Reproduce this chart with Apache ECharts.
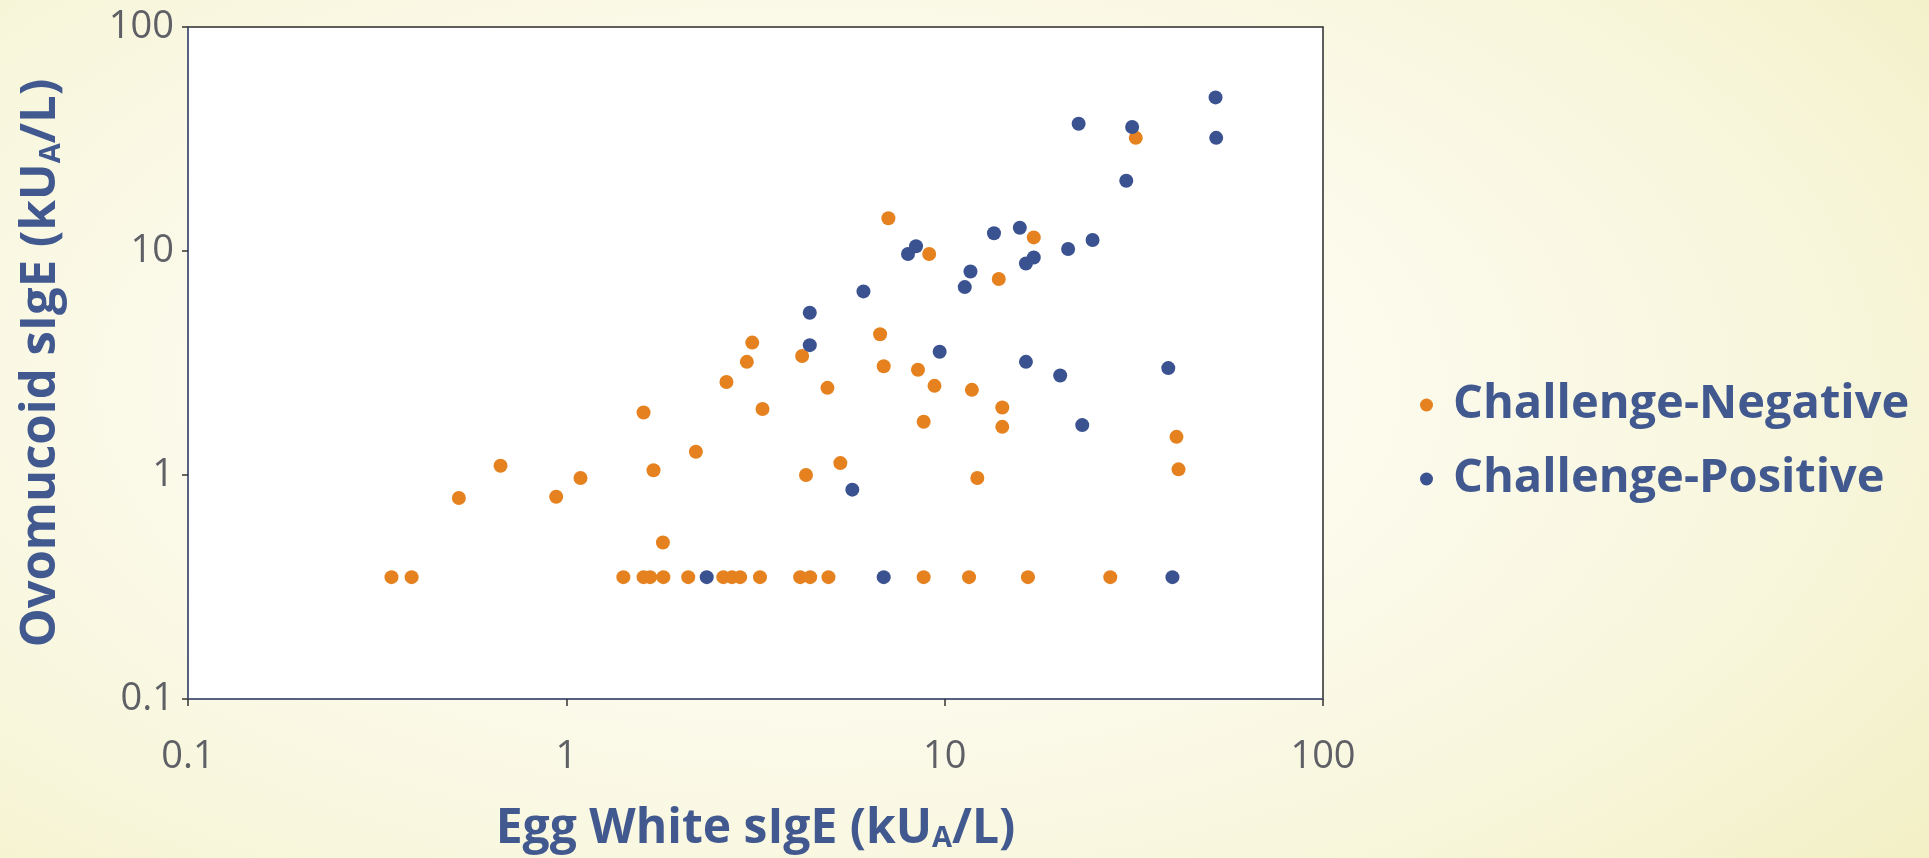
<!DOCTYPE html>
<html>
<head>
<meta charset="utf-8">
<script src="https://cdn.jsdelivr.net/npm/echarts@6/dist/echarts.min.js"></script>
<style>
html,body{margin:0;padding:0;width:1929px;height:858px;overflow:hidden;}
body{background:radial-gradient(ellipse 75% 90% at 42% 45%, #fefdf7 0%, #fbfaea 45%, #f7f5d8 75%, #f2efc4 100%);}
#chart{width:1929px;height:858px;}
</style>
</head>
<body>
<div id="chart"></div>
<script>
// Data (Egg White sIgE, Ovomucoid sIgE), kU_A/L
const seriesNames = ['Challenge-Negative', 'Challenge-Positive'];
const negativeData = [
  [0.345,0.35],[0.39,0.35],[0.52,0.79],[0.67,1.1],[0.94,0.8],[1.09,0.97],
  [1.415,0.35],[1.6,1.9],[1.6,0.35],[1.665,0.35],[1.7,1.05],[1.8,0.5],[1.805,0.35],
  [2.1,0.35],[2.2,1.27],[2.6,0.35],[2.65,2.6],[2.74,0.35],[2.88,0.35],[3.0,3.2],
  [3.1,3.9],[3.25,0.35],[3.3,1.97],[4.15,0.35],[4.2,3.4],[4.3,1.0],[4.41,0.35],
  [4.9,2.45],[4.93,0.35],[5.3,1.13],[6.75,4.25],[6.9,3.06],[7.1,14],[8.5,2.95],
  [8.8,1.73],[8.8,0.35],[9.1,9.7],[9.4,2.5],[11.6,0.35],[11.8,2.4],[12.2,0.97],
  [13.9,7.5],[14.2,2.0],[14.2,1.64],[16.6,0.35],[17.2,11.5],[27.4,0.35],[32,32],
  [41,1.48],[41.5,1.06]
];
const positiveData = [
  [2.35,0.35],[4.4,5.3],[4.4,3.8],[5.7,0.86],[6.1,6.6],[6.9,0.35],[8.0,9.7],
  [8.4,10.5],[9.7,3.55],[11.3,6.9],[11.7,8.1],[13.5,12.0],[15.8,12.7],[16.4,8.8],
  [17.2,9.35],[16.4,3.2],[20.2,2.78],[21.2,10.2],[22.6,37],[23.1,1.67],[24.6,11.2],
  [30.2,20.6],[31.3,35.8],[39,3.0],[40,0.35],[52,48.5],[52.2,32]
];
const tickLabels = ['0.1', '1', '10', '100'];
const axisMin = 0.1, axisMax = 100;

const orange = '#E5821F';
const blue = '#3B5290';
const titleBlue = '#41598F';
const labelGray = '#5E6066';

const chart = echarts.init(document.getElementById('chart'), null, {renderer: 'canvas'});
function fmt(v){
  const s = Number(v.toPrecision(3)).toString();
  return tickLabels.indexOf(s) >= 0 ? s : '';
}
function titleRich(size){
  return {
    t: {fontFamily: 'Open Sans', fontWeight: 'bold', fontSize: size, color: titleBlue, lineHeight: 56, verticalAlign: 'bottom'},
    s: {fontFamily: 'Open Sans', fontWeight: 'bold', fontSize: Math.round(size * 0.6), color: titleBlue, lineHeight: 30, verticalAlign: 'bottom'}
  };
}
chart.setOption({
  backgroundColor: 'transparent',
  animation: false,
  textStyle: {fontFamily: 'Open Sans'},
  grid: {
    left: 188, top: 27, right: 606, bottom: 150,
    show: true, backgroundColor: '#ffffff', borderColor: '#2b2b2b', borderWidth: 1.5
  },
  legend: {
    orient: 'vertical',
    left: 1415, top: 376,
    icon: 'circle', itemWidth: 13, itemHeight: 13, itemGap: 26,
    textStyle: {fontFamily: 'Open Sans', fontWeight: 'bold', fontSize: 47, color: titleBlue, lineHeight: 48, padding: [0,0,0,15]},
    data: seriesNames
  },
  xAxis: {
    type: 'log', logBase: 10, min: axisMin, max: axisMax,
    name: '{t|Egg White sIgE (kU}{s|A}{t|/L)}',
    nameLocation: 'middle', nameGap: 98,
    nameTextStyle: {rich: titleRich(48)},
    axisLine: {show: true, onZero: false, lineStyle: {color: '#56628c', width: 1.5}},
    axisTick: {show: true, inside: false, length: 7, lineStyle: {color: '#333', width: 1.5}},
    minorTick: {show: false},
    splitLine: {show: false},
    axisLabel: {formatter: fmt, fontSize: 38, color: labelGray, margin: 39, fontFamily: 'Open Sans'}
  },
  yAxis: {
    type: 'log', logBase: 10, min: axisMin, max: axisMax,
    name: '{t|Ovomucoid sIgE (kU}{s|A}{t|/L)}',
    nameLocation: 'middle', nameRotate: 90, nameGap: 122,
    nameTextStyle: {rich: titleRich(49)},
    axisLine: {show: true, onZero: false, lineStyle: {color: '#56628c', width: 1.5}},
    axisTick: {show: true, inside: false, length: 6, lineStyle: {color: '#333', width: 1.5}},
    splitLine: {show: false},
    axisLabel: {formatter: fmt, fontSize: 38, color: labelGray, margin: 14, fontFamily: 'Open Sans'}
  },
  series: [
    {name: seriesNames[0], type: 'scatter', data: negativeData, symbol: 'circle', symbolSize: 14,
     itemStyle: {color: orange, opacity: 1}, z: 2},
    {name: seriesNames[1], type: 'scatter', data: positiveData, symbol: 'circle', symbolSize: 14,
     itemStyle: {color: blue, opacity: 1}, z: 3}
  ]
});
</script>
</body>
</html>
